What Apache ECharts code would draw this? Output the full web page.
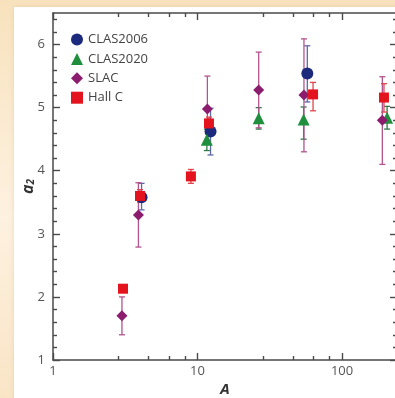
<!DOCTYPE html>
<html>
<head>
<meta charset="utf-8">
<script src="https://cdn.jsdelivr.net/npm/echarts@6/dist/echarts.min.js"></script>
<style>
  html, body { margin: 0; padding: 0; }
  body {
    width: 395px; height: 398px; overflow: hidden;
    background: linear-gradient(180deg, #f8e2bd 0%, #fbecd4 35%, #fdf1df 55%, #f9e5c6 100%);
  }
  #chart { width: 395px; height: 398px; }
</style>
</head>
<body>
<div id="chart"></div>
<script>
// Nuclear mass number A and a2 values with error ranges, per experiment
const clas2006A   = [4.1, 12.3, 57.5];
const clas2006A2  = [3.58, 4.62, 5.54];
const clas2006Lo  = [3.38, 4.25, 5.09];
const clas2006Hi  = [3.80, 4.99, 5.98];

const clas2020A   = [11.6, 26.5, 54.2, 205];
const clas2020A2  = [4.49, 4.83, 4.81, 4.84];
const clas2020Lo  = [4.32, 4.66, 4.50, 4.66];
const clas2020Hi  = [4.66, 5.00, 5.01, 5.02];

const slacA       = [3, 3.9, 11.7, 26.5, 54.5, 190];
const slacA2      = [1.70, 3.30, 4.98, 5.28, 5.20, 4.80];
const slacLo      = [1.40, 2.79, 4.48, 4.68, 4.30, 4.10];
const slacHi      = [2.00, 3.81, 5.50, 5.88, 6.09, 5.49];

const hallCA      = [3.05, 4.0, 9.0, 12.0, 63, 195];
const hallCA2     = [2.13, 3.60, 3.91, 4.75, 5.21, 5.16];
const hallCLo     = [2.09, 3.50, 3.80, 4.65, 4.95, 4.93];
const hallCHi     = [2.17, 3.70, 4.02, 4.85, 5.40, 5.38];

// Axis tick values
const xMajorTicks = [1, 10, 100];
const xMinorTicks = [2.83, 4.59, 6.37, 8.17, 28.3, 45.9, 63.7, 81.7];
const yMajorTicks = [1, 2, 3, 4, 5, 6];
const yMinorTicks = [1.2, 1.4, 1.6, 1.8, 2.2, 2.4, 2.6, 2.8, 3.2, 3.4, 3.6, 3.8,
                     4.2, 4.4, 4.6, 4.8, 5.2, 5.4, 5.6, 5.8, 6.2, 6.4];

const FONT = '"Open Sans", Lato, sans-serif';
const AXIS_COLOR = '#4a4a4a';

const colors = {
  clas2006: '#1b2a7c', clas2006Err: '#5b6aa6',
  clas2020: '#1f8e3d', clas2020Err: '#2f7a45',
  slac: '#8c1c6e', slacErr: '#b3538f',
  hallC: '#e3141d', hallCErr: '#e0454c'
};

function zip(a, b) { return a.map((v, i) => [v, b[i]]); }
function zip3(a, b, c) { return a.map((v, i) => [v, b[i], c[i]]); }

// Vertical error bar with caps, placed through the axis scales
function errorBar(color) {
  return function (params, api) {
    const x = api.value(0);
    const top = api.coord([x, api.value(2)]);
    const bot = api.coord([x, api.value(1)]);
    const w = 3;
    const style = { stroke: color, lineWidth: 1.3 };
    return {
      type: 'group',
      children: [
        { type: 'line', shape: { x1: top[0], y1: top[1], x2: bot[0], y2: bot[1] }, style: style },
        { type: 'line', shape: { x1: top[0] - w, y1: top[1], x2: top[0] + w, y2: top[1] }, style: style },
        { type: 'line', shape: { x1: bot[0] - w, y1: bot[1], x2: bot[0] + w, y2: bot[1] }, style: style }
      ]
    };
  };
}

function errSeries(name, a, lo, hi, color) {
  return {
    type: 'custom', name: name, z: 2,
    renderItem: errorBar(color),
    encode: { x: 0, y: [1, 2] },
    data: zip3(a, lo, hi),
    silent: true
  };
}

const xRange = { min: 1, max: 240, logBase: 10 };
const yRange = { min: 1, max: 6.5 };

function xAxisDef(position, ticks, len, showLine, labels) {
  return Object.assign({
    type: 'log', position: position,
    axisLine: { show: showLine, onZero: false, lineStyle: { color: AXIS_COLOR, width: 1.5 } },
    axisTick: { show: true, inside: true, length: len, customValues: ticks,
                lineStyle: { color: AXIS_COLOR, width: 1.4 } },
    axisLabel: labels ? { show: true, customValues: labels, color: '#555', fontSize: 13,
                          fontFamily: FONT, margin: 5 } : { show: false },
    splitLine: { show: false },
    minorTick: { show: false }
  }, xRange);
}

function yAxisDef(position, ticks, len, showLine, labels) {
  return Object.assign({
    type: 'value', position: position,
    axisLine: { show: showLine, onZero: false, lineStyle: { color: AXIS_COLOR, width: 1.5 } },
    axisTick: { show: true, inside: true, length: len, customValues: ticks,
                lineStyle: { color: AXIS_COLOR, width: 1.4 } },
    axisLabel: labels ? { show: true, customValues: labels, color: '#555', fontSize: 13,
                          fontFamily: FONT, margin: 8 } : { show: false },
    splitLine: { show: false }
  }, yRange);
}

const xMain = xAxisDef('bottom', xMajorTicks, 7, true, xMajorTicks);
xMain.name = 'A';
xMain.nameLocation = 'middle';
xMain.nameGap = 22;
xMain.nameMoveOverlap = false;
xMain.nameTextStyle = { fontStyle: 'italic', fontWeight: 'bold', fontSize: 15,
                        color: '#333', fontFamily: FONT };

const yMain = yAxisDef('left', yMajorTicks, 7, true, yMajorTicks);
yMain.name = '{a|a}{s|2}';
yMain.nameLocation = 'middle';
yMain.nameGap = 17;
yMain.nameMoveOverlap = false;
yMain.nameTextStyle = {
  rich: {
    a: { fontStyle: 'italic', fontWeight: 'bold', fontSize: 16, color: '#333', fontFamily: FONT },
    s: { fontStyle: 'italic', fontWeight: 'bold', fontSize: 10, color: '#333', fontFamily: FONT,
         verticalAlign: 'bottom' }
  }
};

const chart = echarts.init(document.getElementById('chart'), null, { renderer: 'canvas' });

chart.setOption({
  backgroundColor: 'transparent',
  animation: false,
  graphic: [{
    type: 'rect', z: -10, silent: true,
    shape: { x: 14, y: 7, width: 390, height: 400 },
    style: { fill: '#ffffff', shadowBlur: 4, shadowColor: 'rgba(200,170,120,0.35)' }
  }],
  grid: { left: 53, top: 13, width: 344, height: 347, containLabel: false, outerBoundsMode: 'none' },
  legend: {
    data: ['CLAS2006', 'CLAS2020', 'SLAC', 'Hall C'],
    orient: 'vertical', left: 66, top: 28,
    itemWidth: 12, itemHeight: 12, itemGap: 6.4,
    textStyle: { color: '#444', fontSize: 13, fontFamily: FONT }
  },
  xAxis: [
    xMain,
    xAxisDef('bottom', xMinorTicks, 4, false, null),
    xAxisDef('top', xMajorTicks, 7, true, null),
    xAxisDef('top', xMinorTicks, 4, false, null)
  ],
  yAxis: [
    yMain,
    yAxisDef('left', yMinorTicks, 4, false, null),
    yAxisDef('right', yMajorTicks, 7, true, null),
    yAxisDef('right', yMinorTicks, 4, false, null)
  ],
  series: [
    errSeries('CLAS2006 err', clas2006A, clas2006Lo, clas2006Hi, colors.clas2006Err),
    errSeries('CLAS2020 err', clas2020A, clas2020Lo, clas2020Hi, colors.clas2020Err),
    errSeries('SLAC err', slacA, slacLo, slacHi, colors.slacErr),
    errSeries('Hall C err', hallCA, hallCLo, hallCHi, colors.hallCErr),
    { type: 'scatter', name: 'CLAS2006', symbol: 'circle', symbolSize: 12, z: 3,
      itemStyle: { color: colors.clas2006, opacity: 1 }, data: zip(clas2006A, clas2006A2) },
    { type: 'scatter', name: 'CLAS2020', symbol: 'triangle', symbolSize: 12, z: 3,
      itemStyle: { color: colors.clas2020, opacity: 1 }, data: zip(clas2020A, clas2020A2) },
    { type: 'scatter', name: 'SLAC', symbol: 'diamond', symbolSize: 11, z: 3,
      itemStyle: { color: colors.slac, opacity: 1 }, data: zip(slacA, slacA2) },
    { type: 'scatter', name: 'Hall C', symbol: 'rect', symbolSize: 10, z: 3,
      itemStyle: { color: colors.hallC, opacity: 1 }, data: zip(hallCA, hallCA2) }
  ]
});
</script>
</body>
</html>
